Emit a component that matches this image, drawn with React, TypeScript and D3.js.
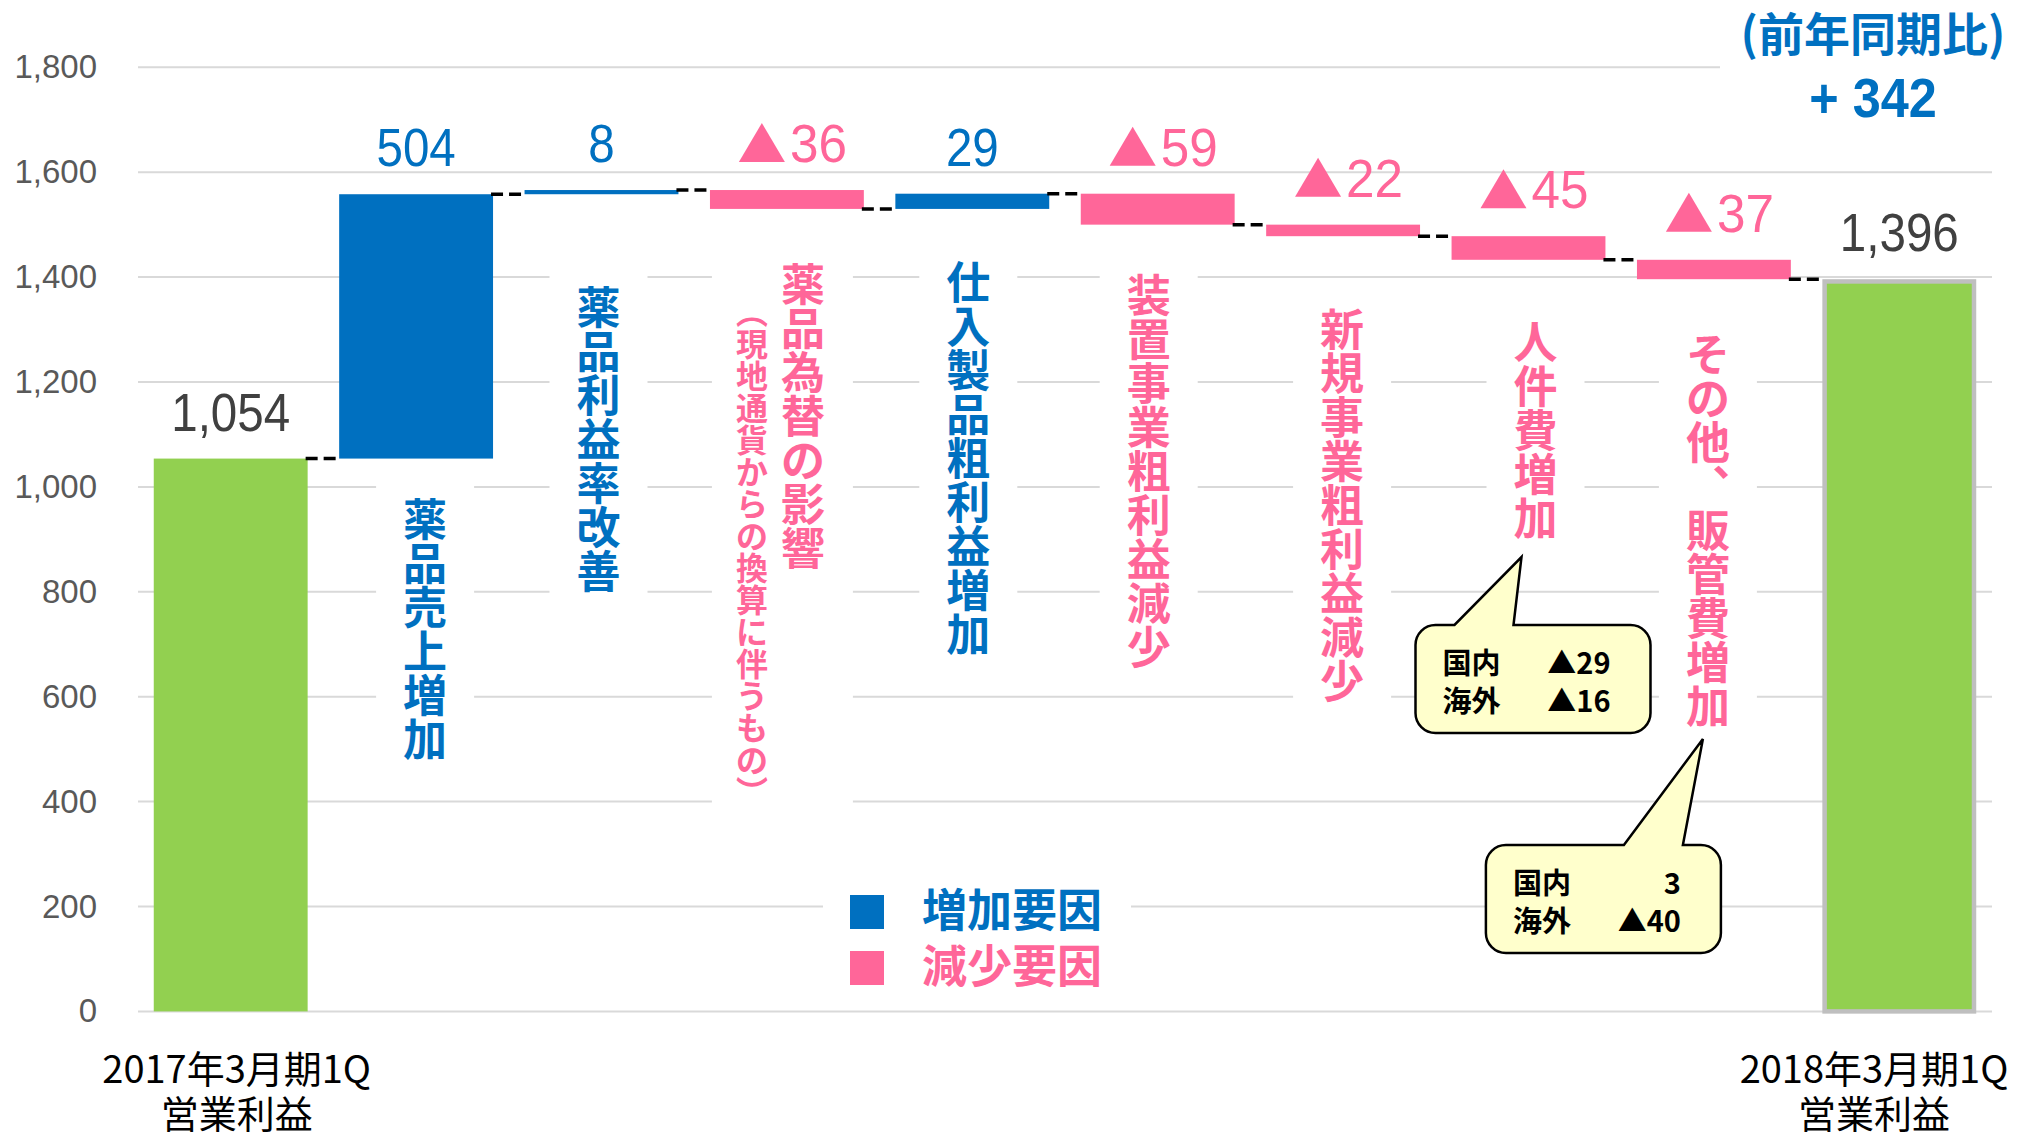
import React from 'react';
import * as d3 from 'd3';

// ---------------- data ----------------
const steps = [
  '2017年3月期1Q営業利益',
  '薬品売上増加',
  '薬品利益率改善',
  '薬品為替の影響',
  '仕入製品粗利益増加',
  '装置事業粗利益減少',
  '新規事業粗利益減少',
  '人件費増加',
  'その他、販管費増加',
  '2018年3月期1Q営業利益',
];
const stepKinds = ['total', 'delta', 'delta', 'delta', 'delta', 'delta', 'delta', 'delta', 'delta', 'total'];
const stepValues = [1054, 504, 8, -36, 29, -59, -22, -45, -37, 1396];
const fxNote = '（現地通貨からの換算に伴うもの）';
const startAxisLabel = ['2017年3月期1Q', '営業利益'];
const endAxisLabel = ['2018年3月期1Q', '営業利益'];
const yTicks = [0, 200, 400, 600, 800, 1000, 1200, 1400, 1600, 1800];
const personnelRegions = ['国内', '海外'];
const personnelValues = [-29, -16];
const sgaRegions = ['国内', '海外'];
const sgaValues = [3, -40];
const legendNames = ['増加要因', '減少要因'];
const yoyTitle = '(前年同期比)';
const yoyChange = 342;

// ---------------- styles ----------------
const W = 2028;
const H = 1136;
const GREEN = '#92D050';
const BLUE = '#0070C0';
const PINK = '#FF6699';
const GRID = '#D9D9D9';
const FONT_NUM = "'Liberation Sans', Arial, sans-serif";
const FONT_JP = "'Noto Sans CJK JP', 'Noto Sans CJK SC', sans-serif";

const fmt = d3.format(',');
const tri = (v: number) => (v < 0 ? '▲' + fmt(Math.abs(v)) : fmt(v));

// vertical presentation forms for vertical text
const vertMap: Record<string, string> = { '、': '︑', '（': '︵', '）': '︶', '(': '︵', ')': '︶' };

function VText({ text, cx, top, fs, color }: { text: string; cx: number; top: number; fs: number; color: string }) {
  const chars = Array.from(text);
  return (
    <g>
      {chars.map((c, i) => (
        <text
          key={i}
          x={cx}
          y={top + i * fs + 0.88 * fs}
          textAnchor="middle"
          fontFamily={FONT_JP}
          fontWeight={700}
          fontSize={fs}
          fill={color}
        >
          {vertMap[c] ?? c}
        </text>
      ))}
    </g>
  );
}

function calloutPath(x0: number, y0: number, w: number, h: number, r: number, b1: number, b2: number, px: number, py: number) {
  const x1 = x0 + w;
  const y1 = y0 + h;
  return `M${x0 + r},${y0} L${b1},${y0} L${px},${py} L${b2},${y0} L${x1 - r},${y0} A${r},${r} 0 0 1 ${x1},${y0 + r} L${x1},${y1 - r} A${r},${r} 0 0 1 ${x1 - r},${y1} L${x0 + r},${y1} A${r},${r} 0 0 1 ${x0},${y1 - r} L${x0},${y0 + r} A${r},${r} 0 0 1 ${x0 + r},${y0} Z`;
}

export default function App() {
  const x = d3
    .scaleBand<number>()
    .domain(d3.range(steps.length))
    .range([138, 1992])
    .paddingInner(0.17)
    .paddingOuter(0.085);
  const y = d3.scaleLinear().domain([0, 1800]).range([1011.4, 67.3]);
  const bw = x.bandwidth();
  const cx = (i: number) => (x(i) as number) + bw / 2;

  // waterfall geometry
  let cum = 0;
  const bars = stepValues.map((v, i) => {
    let y0: number, y1: number;
    if (stepKinds[i] === 'total') {
      y0 = 0;
      y1 = v;
      cum = v;
    } else {
      y0 = cum;
      y1 = cum + v;
      cum = y1;
    }
    const color = stepKinds[i] === 'total' ? GREEN : v >= 0 ? BLUE : PINK;
    return { i, v, y0, y1, level: cum, color, kind: stepKinds[i] };
  });

  // annotation layout for vertical category labels (pixel placement of text boxes)
  const labelLayout: Record<number, { dx: number; top: number }> = {
    1: { dx: 9, top: 497 },
    2: { dx: -3, top: 285 },
    3: { dx: 16, top: 262 },
    4: { dx: -4, top: 260 },
    5: { dx: -9, top: 273 },
    6: { dx: -1, top: 307 },
    7: { dx: 7, top: 320 },
    8: { dx: -6, top: 332 },
  };
  const LFS = 44;
  const SUBFS = 32;
  const subDx = -51;
  const subTop = 296;

  const numScale = 0.88;
  const NFS = 54;

  const c7 = cx(7);
  const c8 = cx(8);
  const co1 = { x0: c7 - 113, y0: 625, w: 235, h: 108, b1: c7 - 74, b2: c7 - 15, px: c7 - 7, py: 557 };
  const co2 = { x0: c8 - 228, y0: 845, w: 235, h: 108, b1: c8 - 90, b2: c8 - 31, px: c8 - 11, py: 739 };

  return (
    <div style={{ position: 'absolute', left: 0, top: 0, width: W, height: H, background: '#fff' }}>
      <svg width={W} height={H} style={{ display: 'block' }}>
        <rect x={0} y={0} width={W} height={H} fill="#fff" />

        {/* gridlines */}
        {yTicks.map((t) => (
          <line key={t} x1={138} x2={1992} y1={y(t)} y2={y(t)} stroke={GRID} strokeWidth={2} />
        ))}
        {/* y tick labels */}
        {yTicks.map((t) => (
          <text key={'l' + t} x={97} y={y(t) + 11} textAnchor="end" fontFamily={FONT_NUM} fontSize={33} fill="#595959">
            {fmt(t)}
          </text>
        ))}

        {/* white text boxes behind vertical labels */}
        {Object.entries(labelLayout).map(([k, L]) => {
          const i = +k;
          const n = Array.from(steps[i]).length;
          const c = cx(i) + L.dx;
          if (i === 3) {
            const subN = Array.from(fxNote).length;
            const left = c + subDx - 40;
            const right = c + 50;
            const top = Math.min(L.top, subTop) - 12;
            const bottom = Math.max(L.top + n * LFS, subTop + subN * SUBFS) + 16;
            return <rect key={'b' + i} x={left} y={top} width={right - left} height={bottom - top} fill="#fff" />;
          }
          return <rect key={'b' + i} x={c - 49} y={L.top - 12} width={98} height={n * LFS + 28} fill="#fff" />;
        })}

        {/* legend box */}
        <rect x={823} y={880} width={308} height={120} fill="#fff" />
        {/* yoy box */}
        <rect x={1720} y={0} width={308} height={135} fill="#fff" />

        {/* bars */}
        {bars.map((b) => {
          const top = y(Math.max(b.y0, b.y1));
          const bot = y(Math.min(b.y0, b.y1));
          if (b.i === steps.length - 1) {
            return (
              <rect
                key={'bar' + b.i}
                x={(x(b.i) as number) + 2.25}
                y={top + 2.25}
                width={bw - 4.5}
                height={bot - top - 2.25}
                fill={b.color}
                stroke="#BFBFBF"
                strokeWidth={4.5}
              />
            );
          }
          return <rect key={'bar' + b.i} x={x(b.i)} y={top} width={bw} height={Math.max(bot - top, 1)} fill={b.color} />;
        })}

        {/* connectors */}
        {bars.slice(0, -1).map((b) => (
          <line
            key={'c' + b.i}
            x1={(x(b.i) as number) + bw - 2}
            x2={x(b.i + 1) as number}
            y1={y(b.level)}
            y2={y(b.level)}
            stroke="#000"
            strokeWidth={3.5}
            strokeDasharray="12 6"
          />
        ))}

        {/* value labels */}
        {bars.map((b) => {
          const top = y(Math.max(b.y0, b.y1));
          const base = top - 28;
          const color = b.kind === 'total' ? '#404040' : b.v >= 0 ? BLUE : PINK;
          if (b.v < 0) {
            const digits = fmt(Math.abs(b.v));
            const sc = 0.95;
            const dW = digits.length * 0.556 * NFS * sc;
            const triW = 46;
            const triH = 39;
            const gap = 5;
            const total = triW + gap + dW;
            const left = cx(b.i) - total / 2 + 6;
            return (
              <g key={'v' + b.i}>
                <path d={`M${left},${base} L${left + triW},${base} L${left + triW / 2},${base - triH} Z`} fill={color} />
                <text
                  transform={`translate(${left + triW + gap},${base}) scale(${sc},1)`}
                  fontFamily={FONT_NUM}
                  fontSize={NFS}
                  fill={color}
                >
                  {digits}
                </text>
              </g>
            );
          }
          return (
            <text
              key={'v' + b.i}
              transform={`translate(${cx(b.i)},${base}) scale(${numScale},1)`}
              textAnchor="middle"
              fontFamily={FONT_NUM}
              fontSize={NFS}
              fill={color}
            >
              {fmt(b.v)}
            </text>
          );
        })}

        {/* vertical category labels */}
        {Object.entries(labelLayout).map(([k, L]) => {
          const i = +k;
          const color = stepValues[i] >= 0 ? BLUE : PINK;
          return <VText key={'t' + i} text={steps[i]} cx={cx(i) + L.dx} top={L.top} fs={LFS} color={color} />;
        })}
        <VText text={fxNote} cx={cx(3) + labelLayout[3].dx + subDx} top={subTop} fs={SUBFS} color={PINK} />

        {/* x axis labels for totals */}
        {startAxisLabel.map((s, k) => (
          <text key={'sa' + k} x={cx(0) + 6} y={1083 + k * 45} textAnchor="middle" fontFamily={FONT_JP} fontSize={38} fill="#000">
            {s}
          </text>
        ))}
        {endAxisLabel.map((s, k) => (
          <text key={'ea' + k} x={Math.min(cx(9), 2008 - 134)} y={1083 + k * 45} textAnchor="middle" fontFamily={FONT_JP} fontSize={38} fill="#000">
            {s}
          </text>
        ))}

        {/* legend */}
        {legendNames.map((n, k) => (
          <g key={'lg' + k}>
            <rect x={850} y={895 + k * 56} width={34} height={34} fill={k === 0 ? BLUE : PINK} />
            <text x={922} y={927 + k * 56} fontFamily={FONT_JP} fontWeight={700} fontSize={45} fill={k === 0 ? BLUE : PINK}>
              {n}
            </text>
          </g>
        ))}

        {/* callouts */}
        {[
          { co: co1, names: personnelRegions, vals: personnelValues },
          { co: co2, names: sgaRegions, vals: sgaValues },
        ].map(({ co, names, vals }, k) => (
          <g key={'co' + k}>
            <path d={calloutPath(co.x0, co.y0, co.w, co.h, 20, co.b1, co.b2, co.px, co.py)} fill="#FFFFCC" stroke="#000" strokeWidth={2.5} />
            {names.map((n, r) => (
              <g key={r}>
                <text x={co.x0 + 27} y={co.y0 + 49 + r * 38} fontFamily={FONT_JP} fontWeight={700} fontSize={29} fill="#000">
                  {n}
                </text>
                <text x={co.x0 + co.w - 40} y={co.y0 + 49 + r * 38} textAnchor="end" fontFamily={FONT_JP} fontWeight={700} fontSize={29} fill="#000">
                  {tri(vals[r])}
                </text>
              </g>
            ))}
          </g>
        ))}

        {/* yoy annotation */}
        <text x={1873} y={51} textAnchor="middle" fontFamily={FONT_JP} fontWeight={700} fontSize={46} fill={BLUE}>
          {yoyTitle}
        </text>
        <text
          transform={`translate(1873,117) scale(0.9,1)`}
          textAnchor="middle"
          fontFamily={FONT_NUM}
          fontWeight={700}
          fontSize={56}
          fill={BLUE}
        >
          {'+ ' + fmt(yoyChange)}
        </text>
      </svg>
    </div>
  );
}
